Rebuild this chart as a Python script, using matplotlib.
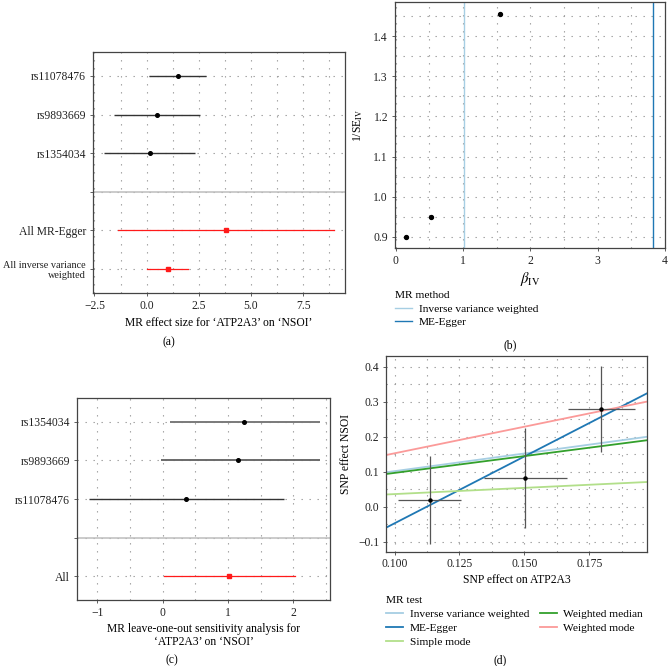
import numpy as np
import matplotlib
matplotlib.use("Agg")
import matplotlib.pyplot as plt
from matplotlib.ticker import MultipleLocator

plt.rcParams['font.family'] = ['Liberation Serif', 'DejaVu Serif']
plt.rcParams['mathtext.fontset'] = 'stix'
plt.rcParams['font.size'] = 8.4

# (a) single SNP forest plot
snps_a = ['rs11078476', 'rs9893669', 'rs1354034']
b_a = [1.52, 0.51, 0.14]
lo_a = [0.12, -1.54, -2.02]
hi_a = [2.87, 2.55, 2.31]
sum_a = ['All MR-Egger', 'All inverse variance\nweighted']
sum_b_a = [3.80, 1.01]
sum_lo_a = [-1.38, 0.0]
sum_hi_a = [8.96, 2.00]

# (b) funnel plot
beta_iv = [0.16, 0.52, 1.55]
inv_se = [0.90, 0.95, 1.456]
methods_b = ['Inverse variance weighted', 'ME-Egger']
method_b_est = [1.01, 3.82]

# (c) leave-one-out
snps_c = ['rs1354034', 'rs9893669', 'rs11078476']
b_c = [1.25, 1.16, 0.36]
lo_c = [0.12, -0.02, -1.13]
hi_c = [2.40, 2.40, 1.85]
all_c = [1.01, 0.02, 2.02]

# (d) scatter plot
snp_exp = [0.1135, 0.1504, 0.1796]
snp_exp_se = [0.012, 0.016, 0.013]
snp_out = [0.019, 0.081, 0.279]
snp_out_se = [0.125, 0.142, 0.123]
tests = ['Inverse variance weighted', 'ME-Egger', 'Simple mode',
         'Weighted median', 'Weighted mode']
slopes = [1.01, 3.82, 0.355, 0.96, 1.52]
intercepts = [0.0, -0.43, 0.0, 0.0, 0.0]
colors_d = ['#A6CEE3', '#1F78B4', '#B2DF8A', '#33A02C', '#FB9A99']

W, H = 668, 666
fig = plt.figure(figsize=(W / 100, H / 100), dpi=100)


def box(l, t, r, b):
    return [l / W, 1 - b / H, (r - l) / W, (b - t) / H]


def style(ax, yminor=True):
    for s in ax.spines.values():
        s.set_color('#444444')
        s.set_linewidth(0.9)
    ax.tick_params(which='major', length=2.5, width=0.6, color='#444444',
                   labelcolor='#222222', pad=2.5)
    ax.tick_params(which='minor', length=0)
    gkw = dict(color='#9a9a9a', linewidth=0.8, linestyle=(0, (1.2, 6)))
    ax.grid(True, which='major', axis='x', **gkw)
    ax.grid(True, which='minor', axis='x', **gkw)
    ax.grid(True, which='major', axis='y', **gkw)
    if yminor:
        ax.grid(True, which='minor', axis='y', **gkw)
    ax.set_axisbelow(True)


def forest(ax, labels, b, lo, hi, slabels, sb, slo, shi, xlim, line_col):
    n = len(labels)
    m = len(slabels)
    ypos = np.arange(m + 1 + n, m + 1, -1)
    ysum = np.arange(m, 0, -1)
    for i in range(n):
        ax.plot([lo[i], hi[i]], [ypos[i], ypos[i]], color=line_col[i],
                lw=1.4 if line_col[i] != '#333333' else 1.0,
                solid_capstyle='butt', zorder=2)
        ax.plot(b[i], ypos[i], 'o', color='black', ms=2.6, zorder=3)
    for i in range(m):
        ax.plot([slo[i], shi[i]], [ysum[i], ysum[i]], color='#ff1a1a',
                lw=0.9, zorder=2)
        ax.plot(sb[i], ysum[i], 's', color='#ff1a1a', ms=2.4, zorder=3)
    ax.axhline(m + 1, color='#bdbdbd', lw=1.1, zorder=2)
    ax.set_yticks(list(ypos) + [m + 1] + list(ysum))
    ax.set_yticklabels(list(labels) + [''] + list(slabels))
    ax.set_ylim(0.38, m + n + 1.62)
    ax.set_xlim(*xlim)


# ---- (a)
ax_a = fig.add_axes(box(93, 52, 345, 293))
forest(ax_a, snps_a, b_a, lo_a, hi_a, sum_a, sum_b_a, sum_lo_a, sum_hi_a,
       (-2.57, 9.51), ['#333333'] * 3)
ax_a.xaxis.set_minor_locator(MultipleLocator(1.25))
ax_a.set_xticks([-2.5, 0, 2.5, 5, 7.5])
ax_a.set_xticklabels(['\u22122.5', '0.0', '2.5', '5.0', '7.5'])
style(ax_a, yminor=False)
ax_a.get_yticklabels()[-1].set_fontsize(7.4)
ax_a.set_xlabel("MR effect size for \u2018ATP2A3\u2019 on \u2018NSOI\u2019",
                labelpad=4)

# ---- (b)
ax_b = fig.add_axes(box(395, 2, 665, 248))
ax_b.scatter(beta_iv, inv_se, s=8, color='black', zorder=3)
cols_b = ['#A6CEE3', '#1F78B4']
for k in range(len(methods_b)):
    ax_b.axvline(method_b_est[k], color=cols_b[k], lw=1.0, zorder=2,
                 label=methods_b[k])
ax_b.set_xlim(-0.01, 4.0)
ax_b.set_ylim(0.872, 1.485)
ax_b.xaxis.set_minor_locator(MultipleLocator(0.5))
ax_b.yaxis.set_minor_locator(MultipleLocator(0.05))
ax_b.set_xticks([0, 1, 2, 3, 4])
ax_b.set_yticks([0.9, 1.0, 1.1, 1.2, 1.3, 1.4])
ax_b.set_yticklabels(['0.9', '1.0', '1.1', '1.2', '1.3', '1.4'])
style(ax_b)
ax_b.set_xlabel(r'$\beta_{\mathrm{IV}}$', fontsize=10.5, labelpad=2)
ax_b.set_ylabel(r'1/SE$_{\mathrm{IV}}$', labelpad=6)
leg_b = ax_b.legend(loc='upper left', bbox_to_anchor=(395 / W, 1 - 291 / H),
                    bbox_transform=fig.transFigure, frameon=False,
                    title='MR method', alignment='left', borderpad=0,
                    handlelength=1.5, handletextpad=0.6, labelspacing=0.32,
                    fontsize=8.2, title_fontsize=8.2, borderaxespad=0)

# ---- (c)
ax_c = fig.add_axes(box(77, 398, 330, 600))
forest(ax_c, snps_c, b_c, lo_c, hi_c, ['All'], [all_c[0]], [all_c[1]],
       [all_c[2]], (-1.31, 2.56), ['#7a7a7a', '#6a6a6a', '#333333'])
ax_c.xaxis.set_minor_locator(MultipleLocator(0.5))
ax_c.set_xticks([-1, 0, 1, 2])
ax_c.set_xticklabels(['\u22121', '0', '1', '2'])
style(ax_c, yminor=False)
ax_c.set_xlabel("MR leave-one-out sensitivity analysis for\n"
                "\u2018ATP2A3\u2019 on \u2018NSOI\u2019", labelpad=3,
                linespacing=1.1)

# ---- (d)
ax_d = fig.add_axes(box(386, 356, 647, 552))
ax_d.errorbar(snp_exp, snp_out, xerr=snp_exp_se, yerr=snp_out_se, fmt='o',
              ms=2.2, color='black', ecolor='#555555', elinewidth=0.9,
              capsize=0, zorder=3)
for k in range(len(tests)):
    ax_d.axline((0, intercepts[k]), slope=slopes[k], color=colors_d[k],
                lw=1.3, label=tests[k], zorder=2)
ax_d.set_xlim(0.0967, 0.1972)
ax_d.set_ylim(-0.13, 0.43)
ax_d.xaxis.set_minor_locator(MultipleLocator(0.0125))
ax_d.yaxis.set_minor_locator(MultipleLocator(0.05))
ax_d.set_xticks([0.1, 0.125, 0.15, 0.175])
ax_d.set_xticklabels(['0.100', '0.125', '0.150', '0.175'])
ax_d.set_yticks([-0.1, 0.0, 0.1, 0.2, 0.3, 0.4])
ax_d.set_yticklabels(['\u22120.1', '0.0', '0.1', '0.2', '0.3', '0.4'])
style(ax_d)
ax_d.tick_params(axis='x', pad=1.5)
ax_d.set_xlabel('SNP effect on ATP2A3', labelpad=3)
ax_d.set_ylabel('SNP effect NSOI', labelpad=4)
leg_d = ax_d.legend(loc='upper left', bbox_to_anchor=(386 / W, 1 - 596 / H),
                    bbox_transform=fig.transFigure, frameon=False, ncol=2,
                    title='MR test', alignment='left', borderpad=0,
                    handlelength=1.5, handletextpad=0.6, labelspacing=0.36,
                    columnspacing=0.9, fontsize=8.2, title_fontsize=8.2,
                    borderaxespad=0)

# panel labels
for lab, x, y in [('(a)', 169, 342), ('(b)', 510, 345),
                  ('(c)', 172, 660), ('(d)', 500, 660)]:
    fig.text(x / W, 1 - y / H, lab, ha='center', va='center', fontsize=8.4)

fig.savefig('out.png', dpi=100)
